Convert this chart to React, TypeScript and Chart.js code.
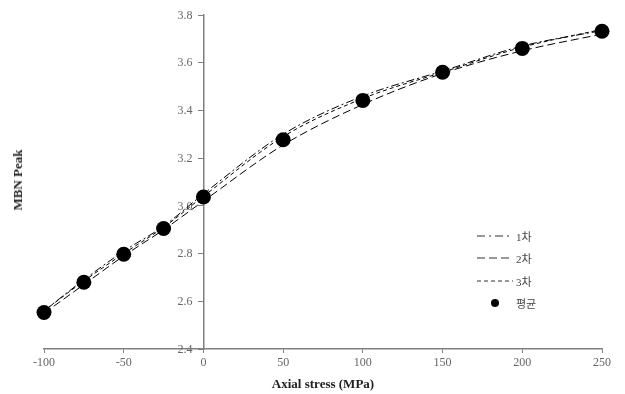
import React, { useEffect, useRef } from "react";
import { Chart, registerables } from "chart.js";

Chart.register(...registerables);

const stress = [-100, -75, -50, -25, 0, 50, 100, 150, 200, 250];
const run1 = [2.56, 2.69, 2.81, 2.915, 3.05, 3.3, 3.46, 3.565, 3.67, 3.735];
const run2 = [2.55, 2.67, 2.79, 2.9, 3.02, 3.255, 3.425, 3.555, 3.65, 3.72];
const run3 = [2.56, 2.685, 2.8, 2.91, 3.04, 3.29, 3.45, 3.56, 3.665, 3.74];
const average = [2.553, 2.68, 2.797, 2.905, 3.037, 3.277, 3.442, 3.56, 3.66, 3.732];
const seriesNames = ["1차", "2차", "3차", "평균"];
const xTitle = "Axial stress (MPa)";
const yTitle = "MBN Peak";

const serif = "'Liberation Serif', 'Times New Roman', serif";
const legendFont = "'Liberation Serif', 'Noto Sans CJK KR', serif";

function pts(vals: number[]) {
  return stress.map((x, i) => ({ x, y: vals[i] }));
}

const yLabelPlugin = {
  id: "yLabels",
  beforeDatasetsDraw(chart: any) {
    const y = chart.scales.y;
    const x = chart.scales.x;
    const ctx = chart.ctx;
    const px = x.getPixelForValue(0);
    ctx.save();
    ctx.font = `12px ${serif}`;
    ctx.fillStyle = "#666";
    ctx.textAlign = "right";
    ctx.textBaseline = "middle";
    y.ticks.forEach((t: any) => {
      ctx.fillText(Number(t.value).toFixed(1), px - 11, y.getPixelForValue(t.value) + 0.5);
    });
    ctx.restore();
  },
};

export default function App() {
  const ref = useRef<HTMLCanvasElement | null>(null);
  useEffect(() => {
    if (!ref.current) return;
    const lineDs = (label: string, vals: number[], dash: number[]) => ({
      label,
      data: pts(vals),
      borderColor: "#000",
      borderWidth: 1,
      borderDash: dash,
      pointRadius: 0,
      fill: false,
      cubicInterpolationMode: "monotone" as const,
      showLine: true,
      clip: false as any,
    });
    const chart = new Chart(ref.current, {
      type: "scatter",
      data: {
        datasets: [
          lineDs(seriesNames[0], run1, [8, 3, 2, 3]),
          lineDs(seriesNames[1], run2, [8, 4]),
          lineDs(seriesNames[2], run3, [4, 3]),
          {
            label: seriesNames[3],
            data: pts(average),
            showLine: false,
            pointRadius: 7.5,
            pointBackgroundColor: "#000",
            pointBorderColor: "#000",
            pointBorderWidth: 0,
            clip: false as any,
          },
        ],
      },
      options: {
        animation: false,
        responsive: false,
        maintainAspectRatio: false,
        layout: { padding: { left: 44, right: 23, top: 15, bottom: 2 } },
        plugins: { legend: { display: false }, tooltip: { enabled: false } },
        scales: {
          x: {
            type: "linear",
            min: -100,
            max: 250,
            position: "bottom",
            border: { color: "#808080", width: 1.5 },
            grid: { display: true, drawOnChartArea: false, drawTicks: true, tickLength: 4, color: "#808080" },
            ticks: {
              stepSize: 50,
              padding: 3,
              color: "#666",
              font: { family: serif, size: 12 },
            },
            title: {
              display: true,
              text: xTitle,
              color: "#222",
              font: { family: serif, size: 13, weight: "bold" },
              padding: { top: 3, bottom: 0 },
            },
          },
          y: {
            type: "linear",
            min: 2.4,
            max: 3.8,
            position: { x: 0 } as any,
            border: { color: "#808080", width: 1.5 },
            grid: { display: true, drawOnChartArea: false, drawTicks: true, tickLength: 5, color: "#808080" },
            ticks: {
              stepSize: 0.2,
              display: false,
            },
          },
        },
      },
      plugins: [yLabelPlugin],
    });
    return () => chart.destroy();
  }, []);

  const legendRow = (top: number, dash: string, label: string) => (
    <div style={{ position: "absolute", left: 477, top, height: 14, display: "flex", alignItems: "center" }}>
      <svg width="36" height="4" style={{ display: "block" }}>
        <line x1="0" y1="2" x2="36" y2="2" stroke="#333" strokeWidth="1.2" strokeDasharray={dash} />
      </svg>
      <span style={{ marginLeft: 3, fontFamily: legendFont, fontSize: 11, color: "#444" }}>{label}</span>
    </div>
  );

  return (
    <div style={{ position: "fixed", left: 0, top: 0, width: 625, height: 394, background: "#fff" }}>
      <canvas ref={ref} width={625} height={394} style={{ position: "absolute", left: 0, top: 0 }} />
      <div
        style={{
          position: "absolute",
          left: 18,
          top: 180,
          transform: "translate(-50%, -50%) rotate(-90deg)",
          fontFamily: serif,
          fontWeight: "bold",
          fontSize: 13,
          color: "#222",
          whiteSpace: "nowrap",
        }}
      >
        {yTitle}
      </div>
      {legendRow(229, "8 4 2 4", seriesNames[0])}
      {legendRow(251, "8 4", seriesNames[1])}
      {legendRow(274, "4 3", seriesNames[2])}
      <div style={{ position: "absolute", left: 491, top: 299, width: 8, height: 8, borderRadius: 4, background: "#000" }} />
      <span style={{ position: "absolute", left: 516, top: 295, fontFamily: legendFont, fontSize: 11, color: "#444" }}>
        {seriesNames[3]}
      </span>
    </div>
  );
}
